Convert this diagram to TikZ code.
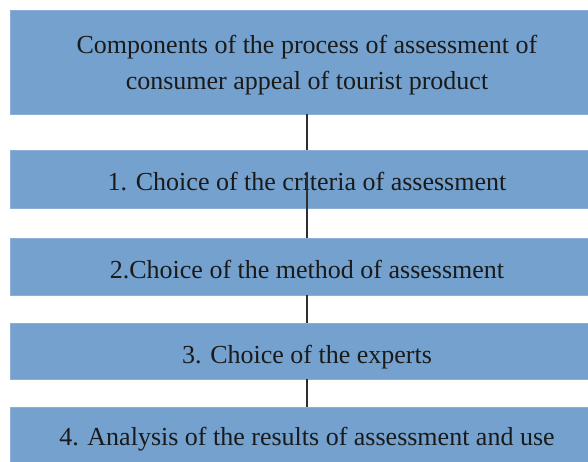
\documentclass[tikz,border=0pt]{standalone}
\usepackage{fontspec}
\setmainfont{Liberation Serif}
\definecolor{boxblue}{HTML}{74A1CD}
\definecolor{boxedge}{HTML}{8AB0D8}
\definecolor{txt}{HTML}{1A1A1A}
\definecolor{conn}{HTML}{2E2E2E}
\tikzset{
  stage/.style={rectangle, fill=boxblue, draw=boxedge, line width=0.8pt,
    minimum width=594pt, inner sep=0pt, text=txt, align=center,
    font=\fontsize{26}{36}\selectfont},
  oneline/.style={text height=24pt, text depth=0pt},
  link/.style={draw=conn, line width=1.5pt}
}
\begin{document}
\begin{tikzpicture}[x=1pt,y=-1pt]
\useasboundingbox (0,0) rectangle (588,462);
\clip (0,0) rectangle (588,462);
\fill[white] (0,0) rectangle (588,462);
\node[stage, minimum height=104pt, text depth=0pt] (n0) at (307,62)
  {Components of the process of assessment of\\consumer appeal of tourist product};
\node[stage, oneline, minimum height=58pt] (n1) at (307,179)
  {1. Choice of the criteria of assessment};
\node[stage, oneline, minimum height=57pt] (n2) at (307,266.5)
  {2.Choice of the method of assessment};
\node[stage, oneline, minimum height=56pt] (n3) at (307,351)
  {3. Choice of the experts};
\node[stage, oneline, minimum height=58pt, text depth=6pt] (n4) at (307,436)
  {4. Analysis of the results of assessment and use};
\coordinate (c1) at (307,172);
\draw[link] (n0.south) -- (n1.north);
\draw[link] (c1) -- (n2.north);
\draw[link] (n2.south) -- (n3.north);
\draw[link] (n3.south) -- (n4.north);
\end{tikzpicture}
\end{document}
